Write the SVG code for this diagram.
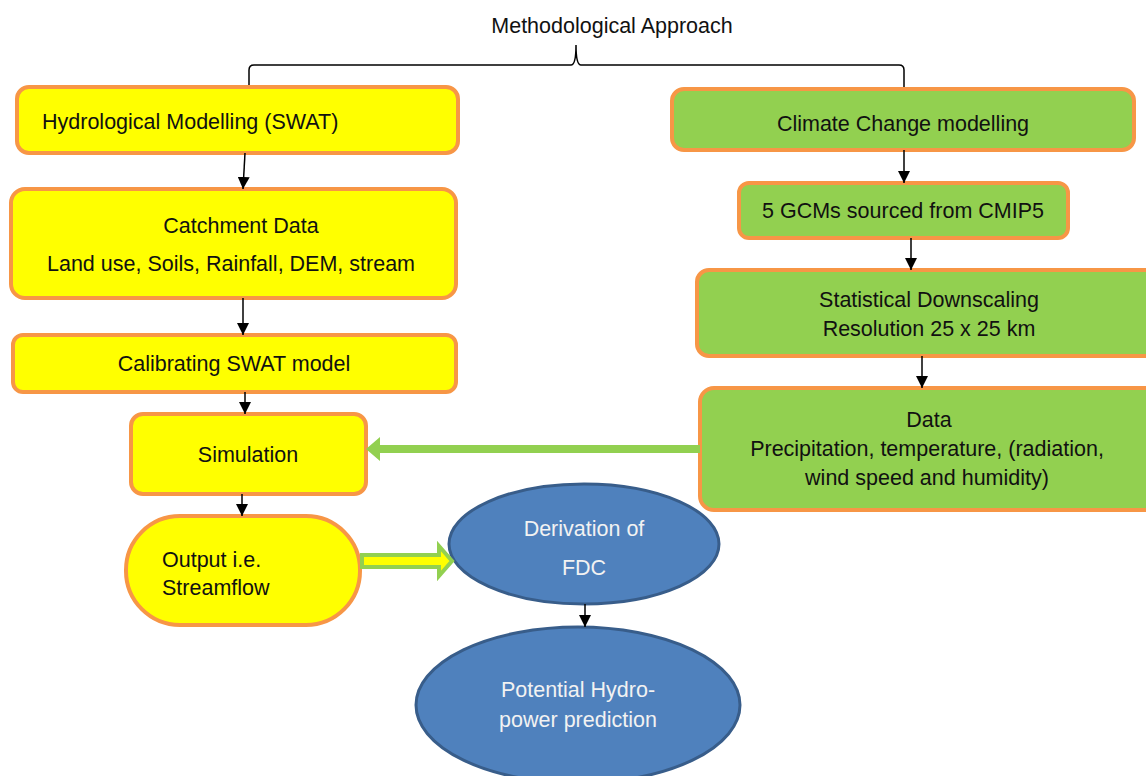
<svg xmlns="http://www.w3.org/2000/svg" width="1146" height="776" viewBox="0 0 1146 776">
<defs>
<style>
.t{font-family:"Liberation Sans",Arial,sans-serif;font-size:21.5px;fill:#111}
.tw{font-family:"Liberation Sans",Arial,sans-serif;font-size:21.5px;fill:#f2f2f2}
.y{fill:#FFFF00;stroke:#F79646;stroke-width:4}
.g{fill:#92D050;stroke:#F79646;stroke-width:4}
.b{fill:#4F81BD;stroke:#385D8A;stroke-width:3}
.c{stroke:#000;stroke-width:1.5;fill:none;marker-end:url(#ah)}
</style>
<marker id="ah" viewBox="0 0 10 10" refX="10" refY="5" markerWidth="12" markerHeight="12" markerUnits="userSpaceOnUse" orient="auto"><path d="M0,0 L10,5 L0,10 z" fill="#000"/></marker>
</defs>
<rect width="1146" height="776" fill="#fff"/>
<g id="title">
<text class="t" x="612" y="33" text-anchor="middle">Methodological Approach</text>
<path d="M249,88 V70 Q249,65 254,65 H571 Q576,65 576,45 Q576,65 581,65 H899 Q904,65 904,70 V90" fill="none" stroke="#000" stroke-width="1.5"/>
</g>
<g id="hydro"><rect class="y" x="17" y="87" width="441" height="66" rx="12"/><text class="t" x="42" y="129">Hydrological  Modelling (SWAT)</text></g>
<g id="catchment"><rect class="y" x="11" y="189" width="445" height="109" rx="14"/><text class="t" x="241" y="233" text-anchor="middle">Catchment  Data</text><text class="t" x="231" y="271" text-anchor="middle">Land use, Soils, Rainfall, DEM, stream</text></g>
<g id="calib"><rect class="y" x="13" y="335" width="443" height="57" rx="10"/><text class="t" x="234" y="371" text-anchor="middle">Calibrating  SWAT model</text></g>
<g id="sim"><rect class="y" x="131" y="414" width="235" height="80" rx="12"/><text class="t" x="248" y="462" text-anchor="middle">Simulation</text></g>
<g id="output"><rect class="y" x="126" y="516" width="234" height="109" rx="54"/><text class="t" x="162" y="567">Output i.e.</text><text class="t" x="162" y="595">Streamflow</text></g>
<g id="climate"><rect class="g" x="672" y="89" width="462" height="61" rx="12"/><text class="t" x="903" y="131" text-anchor="middle">Climate  Change modelling</text></g>
<g id="gcm"><rect class="g" x="739" y="183" width="329" height="55" rx="10"/><text class="t" x="903" y="218" text-anchor="middle">5 GCMs sourced from CMIP5</text></g>
<g id="downscale"><rect class="g" x="697" y="270" width="460" height="86" rx="12"/><text class="t" x="929" y="307" text-anchor="middle">Statistical Downscaling</text><text class="t" x="929" y="336" text-anchor="middle">Resolution 25 x 25 km</text></g>
<g id="data"><rect class="g" x="700" y="388" width="460" height="122" rx="14"/><text class="t" x="929" y="427" text-anchor="middle">Data</text><text class="t" x="927" y="456" text-anchor="middle">Precipitation, temperature, (radiation,</text><text class="t" x="927" y="485" text-anchor="middle">wind speed and humidity)</text></g>
<g id="fdc"><ellipse class="b" cx="584" cy="544" rx="135" ry="60"/><text class="tw" x="584" y="536" text-anchor="middle">Derivation  of</text><text class="tw" x="584" y="575" text-anchor="middle">FDC</text></g>
<g id="hydropower"><ellipse class="b" cx="578" cy="705" rx="162" ry="78"/><text class="tw" x="578" y="697" text-anchor="middle">Potential Hydro-</text><text class="tw" x="578" y="727" text-anchor="middle">power prediction</text></g>
<g id="connectors">
<path class="c" d="M245,153 L243,189"/>
<path class="c" d="M243,298 L243,335"/>
<path class="c" d="M245,392 L245,414"/>
<path class="c" d="M242,494 L242,516"/>
<path class="c" d="M904,150 L904,183"/>
<path class="c" d="M911,238 L911,270"/>
<path class="c" d="M922,356 L922,388"/>
<path class="c" d="M585,604 L585,627"/>
<polygon points="700,445 380,445 380,437 366,449 380,461 380,453 700,453" fill="#92D050"/>
<polygon points="362,555 439,555 439,546 452,561 439,576 439,567 362,567" fill="#FFFF00" stroke="#92D050" stroke-width="4" stroke-linejoin="miter"/>
</g>
</svg>
